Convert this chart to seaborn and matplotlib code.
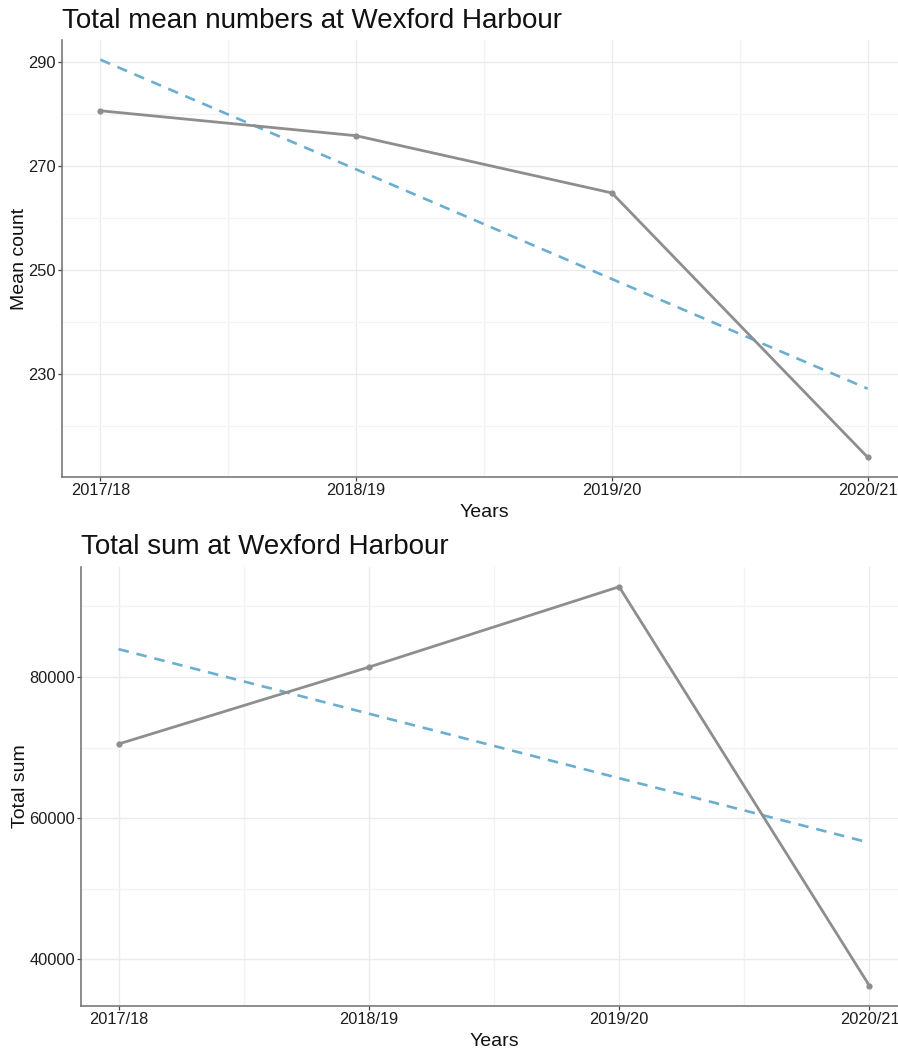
import matplotlib
matplotlib.use("Agg")
import matplotlib.pyplot as plt
import seaborn as sns
import numpy as np
import pandas as pd
from matplotlib.ticker import FixedLocator

# data
years = ["2017/18", "2018/19", "2019/20", "2020/21"]
mean_counts = [280.6, 275.8, 264.8, 214.0]
total_sums = [70500, 81400, 92800, 36200]

mean_ticks = [230, 250, 270, 290]
total_ticks = [40000, 60000, 80000]

line_grey = "#8e8e8e"
trend_blue = "#6aaed0"

sns.set_theme(style="white")
plt.rcParams['font.family'] = ['Liberation Sans', 'DejaVu Sans']

df = pd.DataFrame({"idx": np.arange(len(years)), "year": years,
                   "mean": mean_counts, "total": total_sums})


def style_axes(ax, yticks, ylim, ylabel, title):
    ax.set_xlim(-0.15, 3.15)
    ax.set_ylim(*ylim)
    ax.xaxis.set_major_locator(FixedLocator(df["idx"]))
    ax.set_xticklabels(years)
    ax.xaxis.set_minor_locator(FixedLocator([0.5, 1.5, 2.5]))
    step = yticks[1] - yticks[0]
    ax.yaxis.set_major_locator(FixedLocator(yticks))
    ax.set_yticklabels([str(t) for t in yticks])
    minor = [yticks[0] - step / 2] + [t + step / 2 for t in yticks]
    ax.yaxis.set_minor_locator(FixedLocator(minor))
    ax.grid(which="major", color="#ebebeb", linewidth=1.0)
    ax.grid(which="minor", color="#f3f3f3", linewidth=1.0)
    ax.set_axisbelow(True)
    for s in ["top", "right"]:
        ax.spines[s].set_visible(False)
    for s in ["left", "bottom"]:
        ax.spines[s].set_color("#6e6e6e")
        ax.spines[s].set_linewidth(1.1)
    ax.tick_params(which="major", length=3, width=0.9, color="#444444",
                   labelsize=11.8, labelcolor="#1e1e1e", pad=1.5,
                   bottom=True, left=True)
    ax.tick_params(which="minor", length=0)
    ax.set_xlabel("Years", fontsize=14, color="#111111", labelpad=4)
    ax.set_ylabel(ylabel, fontsize=14, color="#111111", labelpad=0)
    ax.set_title(title, loc="left", fontsize=20, color="#111111", pad=9)


fig = plt.figure(figsize=(8.98, 10.55), dpi=100)
ax1 = fig.add_axes([62 / 898, 1 - 477 / 1055, (906 - 62) / 898, (477 - 40) / 1055])
ax2 = fig.add_axes([81 / 898, 1 - 1006 / 1055, (907 - 81) / 898, (1006 - 567) / 1055])

for ax, col in [(ax1, "mean"), (ax2, "total")]:
    sns.regplot(data=df, x="idx", y=col, ax=ax, ci=None, scatter=False,
                truncate=True,
                line_kws=dict(color=trend_blue, linestyle=(0, (4, 3)), linewidth=1.9))
    sns.lineplot(data=df, x="idx", y=col, ax=ax, color=line_grey,
                 linewidth=2.0, marker="o", markersize=4.5,
                 markeredgewidth=0, markerfacecolor=line_grey)

style_axes(ax1, mean_ticks, (210.2, 294.2), "Mean count",
           "Total mean numbers at Wexford Harbour")
style_axes(ax2, total_ticks, (33340, 95600), "Total sum",
           "Total sum at Wexford Harbour")

fig.savefig("out.png", dpi=100)
